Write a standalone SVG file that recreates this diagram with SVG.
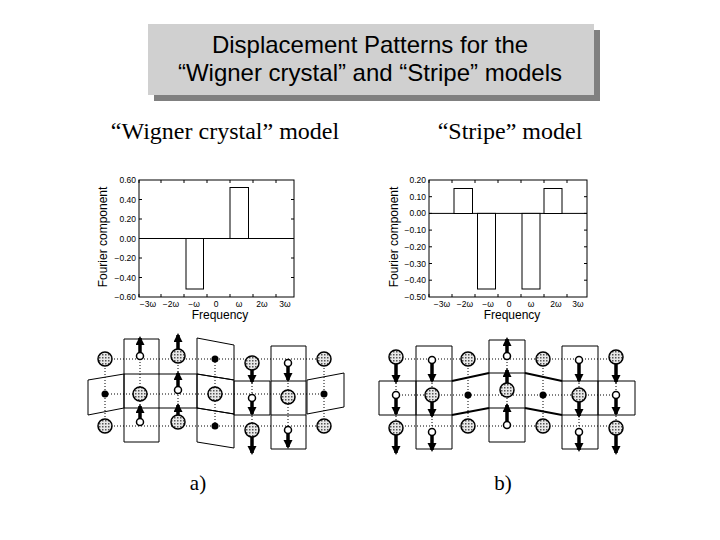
<svg xmlns="http://www.w3.org/2000/svg" width="720" height="540" viewBox="0 0 720 540">
<defs>
<pattern id="dots" width="3" height="3" patternUnits="userSpaceOnUse"><rect width="3" height="3" fill="#e8e8e8"/><rect width="1.5" height="1.5" fill="#555"/></pattern>
<marker id="ah" markerUnits="userSpaceOnUse" markerWidth="10" markerHeight="10" refX="7" refY="4.5" orient="auto"><path d="M0,0 L9,4.5 L0,9 z" fill="#000"/></marker>
</defs>
<style>
.frame{fill:none;stroke:#000;stroke-width:1}
.bar{fill:#fff;stroke:#000;stroke-width:1}
.tk{font-family:"Liberation Sans",Arial,sans-serif;font-size:8.5px;fill:#000}
.yl{text-anchor:end}
.xl{text-anchor:middle}
.lab{font-family:"Liberation Sans",Arial,sans-serif;font-size:12px;fill:#000;text-anchor:middle}
.ser{font-family:"Liberation Serif","Times New Roman",serif;fill:#000;text-anchor:middle}
.dot{stroke:#000;stroke-width:1;stroke-dasharray:1,2;fill:none}
.box{fill:none;stroke:#000;stroke-width:1}
.thick{stroke:#000;stroke-width:2;fill:none}
.big{fill:url(#dots);stroke:#000;stroke-width:1.5}
.wht{fill:#fff;stroke:#000;stroke-width:1.5}
.blk{fill:#000}
.arr{stroke:#000;stroke-width:3.5;marker-end:url(#ah)}
</style>
<g id="title">
<rect x="154" y="30" width="446" height="71" fill="#808080"/>
<rect x="148" y="24" width="446" height="71" fill="#d0d0d0"/>
<text x="370" y="53" font-family="Liberation Sans,Arial,sans-serif" font-size="24" text-anchor="middle">Displacement Patterns for the</text>
<text x="370" y="81" font-family="Liberation Sans,Arial,sans-serif" font-size="24" text-anchor="middle">“Wigner crystal” and “Stripe” models</text>
</g>
<text class="ser" x="225" y="139" font-size="24">“Wigner crystal” model</text>
<text class="ser" x="510" y="139" font-size="24">“Stripe” model</text>

<g id="chartA">
<rect class="frame" x="139" y="180" width="155" height="117"/>
<path d="M139,180v3M161,180v3M184,180v3M207,180v3M230,180v3M253,180v3M276,180v3M139,297v-3M161,297v-3M184,297v-3M207,297v-3M230,297v-3M253,297v-3M276,297v-3M139,199.5h3M139,219h3M139,238.5h3M139,258h3M139,277.5h3M294,199.5h-3M294,219h-3M294,238.5h-3M294,258h-3M294,277.5h-3" stroke="#000" fill="none"/>
<line x1="139" y1="238.5" x2="294" y2="238.5" stroke="#000"/>
<rect class="bar" x="186" y="238.5" width="17.5" height="50.5"/>
<rect class="bar" x="230" y="187.5" width="18.5" height="51"/>
<g class="tk yl"><text x="136" y="183">0.60</text><text x="136" y="202.5">0.40</text><text x="136" y="222">0.20</text><text x="136" y="241.5">0.00</text><text x="136" y="261">−0.20</text><text x="136" y="280.5">−0.40</text><text x="136" y="300">−0.60</text></g>
<g class="tk xl"><text x="148" y="307">−3ω</text><text x="171" y="307">−2ω</text><text x="194" y="307">−ω</text><text x="216" y="307">0</text><text x="239" y="307">ω</text><text x="262" y="307">2ω</text><text x="285" y="307">3ω</text></g>
<text class="lab" x="220" y="319">Frequency</text>
<text class="lab" x="0" y="0" font-size="10" transform="translate(107,237) rotate(-90)">Fourier component</text>
</g>

<g id="chartB">
<rect class="frame" x="429" y="180" width="158" height="117"/>
<path d="M429,180v3M452,180v3M475,180v3M498,180v3M521,180v3M544,180v3M567,180v3M429,297v-3M452,297v-3M475,297v-3M498,297v-3M521,297v-3M544,297v-3M567,297v-3M429,196.7h3M429,213.4h3M429,230.1h3M429,246.8h3M429,263.5h3M429,280.2h3M587,196.7h-3M587,213.4h-3M587,230.1h-3M587,246.8h-3M587,263.5h-3M587,280.2h-3" stroke="#000" fill="none"/>
<line x1="429" y1="213.4" x2="587" y2="213.4" stroke="#000"/>
<rect class="bar" x="454" y="188.5" width="18.5" height="25"/>
<rect class="bar" x="477.5" y="213.4" width="18" height="75.6"/>
<rect class="bar" x="522" y="213.4" width="18" height="75.6"/>
<rect class="bar" x="544" y="188.5" width="18" height="25"/>
<g class="tk yl"><text x="426" y="183">0.20</text><text x="426" y="199.7">0.10</text><text x="426" y="216.4">0.00</text><text x="426" y="233.1">−0.10</text><text x="426" y="249.8">−0.20</text><text x="426" y="266.5">−0.30</text><text x="426" y="283.2">−0.40</text><text x="426" y="300">−0.50</text></g>
<g class="tk xl"><text x="442" y="307">−3ω</text><text x="465" y="307">−2ω</text><text x="488" y="307">−ω</text><text x="509" y="307">0</text><text x="531" y="307">ω</text><text x="556" y="307">2ω</text><text x="578" y="307">3ω</text></g>
<text class="lab" x="512" y="319">Frequency</text>
<text class="lab" x="0" y="0" font-size="10" transform="translate(398,237) rotate(-90)">Fourier component</text>
</g>

<g id="latticeA">
<path class="dot" d="M105,359H324M105,394H324M105,426H324M105,359V426M140,359V426M178,359V426M215,359V426M252,359V426M288,359V426M324,359V426"/>
<path class="box" d="M124,339h35v103h-35zM124,374h35M124,408h35M159,374h38v34h-38"/>
<path class="box" d="M197,338L234,345L234,380L197,374zM197,374L234,380L234,414L197,408zM197,408L234,414L234,448L197,442z"/>
<path class="box" d="M88,380L124,374L124,408L88,415z"/>
<path class="box" d="M234,381h36v34h-36z"/>
<path class="box" d="M271,346h35v103h-35zM271,381h35M271,415h35"/>
<path class="box" d="M307,380L344,373L344,407L307,414z"/>
<line class="arr" x1="140" y1="356" x2="140" y2="338"/>
<line class="arr" x1="178" y1="356" x2="178" y2="335"/>
<line class="arr" x1="252" y1="363" x2="252" y2="382"/>
<line class="arr" x1="288" y1="363" x2="288" y2="380"/>
<line class="arr" x1="178" y1="390" x2="178" y2="373"/>
<line class="arr" x1="252" y1="398" x2="252" y2="414"/>
<line class="arr" x1="140" y1="422" x2="140" y2="406"/>
<line class="arr" x1="178" y1="422" x2="178" y2="405"/>
<line class="arr" x1="252" y1="430" x2="252" y2="453"/>
<line class="arr" x1="288" y1="430" x2="288" y2="447"/>
<circle class="big" cx="105" cy="359" r="7"/><circle class="wht" cx="140" cy="356" r="3.5"/><circle class="big" cx="178" cy="356" r="7"/><circle class="blk" cx="215" cy="359" r="3.5"/><circle class="big" cx="252" cy="363" r="7"/><circle class="wht" cx="288" cy="363" r="3.5"/><circle class="big" cx="324" cy="359" r="7"/>
<circle class="blk" cx="105" cy="394" r="3.5"/><circle class="big" cx="140" cy="394" r="7"/><circle class="wht" cx="178" cy="390" r="3.5"/><circle class="big" cx="215" cy="394" r="7"/><circle class="wht" cx="252" cy="398" r="3.5"/><circle class="big" cx="288" cy="397" r="7"/><circle class="blk" cx="324" cy="394" r="3.5"/>
<circle class="big" cx="105" cy="426" r="7"/><circle class="wht" cx="140" cy="422" r="3.5"/><circle class="big" cx="178" cy="422" r="7"/><circle class="blk" cx="215" cy="426" r="3.5"/><circle class="big" cx="252" cy="430" r="7"/><circle class="wht" cx="288" cy="430" r="3.5"/><circle class="big" cx="324" cy="426" r="7"/>
</g>

<g id="latticeB">
<path class="dot" d="M396,359H616M396,395H616M396,426H616M396,359V426M432,359V426M468,359V426M507,359V426M543,359V426M579,359V426M616,359V426"/>
<path class="box" d="M416,346h36v103h-36zM416,381h36M416,415h36M379,381h37v34h-37z"/>
<path class="box" d="M489,340h36v102h-36zM489,373h36M489,408h36"/>
<path class="box" d="M562,346h36v103h-36zM562,381h36M562,415h36M598,381h37v34h-37z"/>
<path class="thick" d="M452,381L489,373M452,415L489,408M525,373L562,381M525,408L562,415"/>
<line class="arr" x1="396" y1="360" x2="396" y2="382"/>
<line class="arr" x1="432" y1="360" x2="432" y2="381"/>
<line class="arr" x1="507" y1="356" x2="507" y2="339"/>
<line class="arr" x1="579" y1="360" x2="579" y2="381"/>
<line class="arr" x1="616" y1="360" x2="616" y2="382"/>
<line class="arr" x1="396" y1="395" x2="396" y2="414"/>
<line class="arr" x1="432" y1="395" x2="432" y2="416"/>
<line class="arr" x1="507" y1="392" x2="507" y2="370"/>
<line class="arr" x1="579" y1="395" x2="579" y2="416"/>
<line class="arr" x1="616" y1="395" x2="616" y2="414"/>
<line class="arr" x1="396" y1="430" x2="396" y2="453"/>
<line class="arr" x1="432" y1="432" x2="432" y2="450"/>
<line class="arr" x1="507" y1="425" x2="507" y2="405"/>
<line class="arr" x1="579" y1="432" x2="579" y2="450"/>
<line class="arr" x1="616" y1="430" x2="616" y2="453"/>
<circle class="big" cx="396" cy="357" r="7"/><circle class="wht" cx="432" cy="360" r="3.5"/><circle class="big" cx="468" cy="359" r="7"/><circle class="wht" cx="507" cy="356" r="3.5"/><circle class="big" cx="543" cy="359" r="7"/><circle class="wht" cx="579" cy="360" r="3.5"/><circle class="big" cx="616" cy="357" r="7"/>
<circle class="wht" cx="396" cy="395" r="3.5"/><circle class="big" cx="432" cy="395" r="7"/><circle class="blk" cx="468" cy="395" r="3.5"/><circle class="big" cx="507" cy="390" r="7"/><circle class="blk" cx="543" cy="395" r="3.5"/><circle class="big" cx="579" cy="395" r="7"/><circle class="wht" cx="616" cy="395" r="3.5"/>
<circle class="big" cx="396" cy="428" r="7"/><circle class="wht" cx="432" cy="432" r="3.5"/><circle class="big" cx="468" cy="426" r="7"/><circle class="wht" cx="507" cy="425" r="3.5"/><circle class="big" cx="543" cy="426" r="7"/><circle class="wht" cx="579" cy="432" r="3.5"/><circle class="big" cx="616" cy="428" r="7"/>
</g>
<text class="ser" x="198" y="490" font-size="21">a)</text>
<text class="ser" x="503" y="490" font-size="21">b)</text>
</svg>
